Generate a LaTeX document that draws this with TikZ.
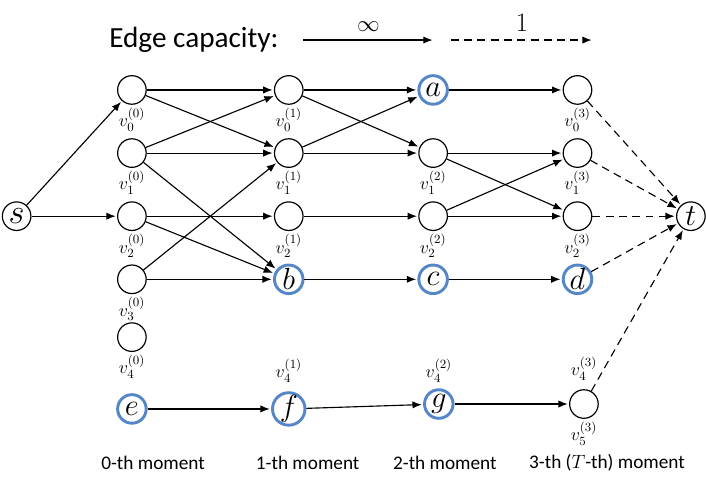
\RequirePackage{fix-cm}
\documentclass[tikz,border=0pt]{standalone}
\usepackage{amsmath,amsfonts}
\usepackage{fontspec}
\setmainfont{Carlito}
\usepackage{tikz}
\usetikzlibrary{automata,positioning,arrows.meta}

\definecolor{pickblue}{RGB}{84,134,200}

\tikzset{
  every state/.style={minimum size=21.5pt,inner sep=0pt,line width=0.9pt,
    font=\fontsize{23}{23}\selectfont},
  picked/.style={draw=pickblue,line width=2.2pt},
  onecap/.style={dash pattern=on 6pt off 4pt},
  vlab/.style={font=\fontsize{13.5}{14}\selectfont,inner sep=1pt,label distance=1pt},
  moment/.style={font=\fontsize{14.5}{15}\selectfont}
}

\begin{document}
\begin{tikzpicture}[shorten >=1pt,node distance=1.67cm and 3.82cm,on grid,
    >={Latex[length=7pt,width=5.5pt]},line width=0.85pt]
   \useasboundingbox (0,0) rectangle (18.68,-12.62);

   % capacity legend
   \node[font=\fontsize{22}{22}\selectfont] (cap) at (5.13,-1.06) {Edge capacity:};
   \coordinate (inf_a) at (8.02,-1.06);
   \coordinate (inf_b) at (11.48,-1.06);
   \coordinate (one_a) at (11.93,-1.06);
   \coordinate (one_b) at (15.69,-1.06);
   \draw[->] (inf_a) -- node[above=3pt,font=\fontsize{17}{17}\selectfont] {$\infty$} (inf_b);
   \draw[->,onecap] (one_a) -- node[above=3pt,font=\fontsize{20}{20}\selectfont] {$1$} (one_b);

   % 0-th moment
   \node[state] (v00) at (3.49,-2.38) [label={[vlab]below:$v_0^{(0)}$}] {};
   \node[state] (v10) [below=of v00, label={[vlab]below:$v_1^{(0)}$}] {};
   \node[state] (v20) [below=of v10, label={[vlab]below:$v_2^{(0)}$}] {};
   \node[state] (v30) [below=of v20, label={[vlab]below:$v_3^{(0)}$}] {};
   \node[state] (v40) [below=1.53cm of v30, label={[vlab]below:$v_4^{(0)}$}] {};
   \node[state, font=\fontsize{26}{26}\selectfont] (s) [left=3.05cm of v20] {$s$};

   % 1-th moment
   \node[state] (v01) [right=4.15cm of v00, label={[vlab]below:$v_0^{(1)}$}] {};
   \node[state] (v11) [right=4.15cm of v10, label={[vlab]below:$v_1^{(1)}$}] {};
   \node[state] (v21) [right=4.15cm of v20, label={[vlab]below:$v_2^{(1)}$}] {};
   \node[state, picked] (b) [right=4.15cm of v30] {$b$};

   % 2-th moment
   \node[state, picked] (a) [right=of v01] {$a$};
   \node[state] (v12) [right=of v11, label={[vlab]below:$v_1^{(2)}$}] {};
   \node[state] (v22) [right=of v21, label={[vlab]below:$v_2^{(2)}$}] {};
   \node[state, picked] (c) [right=of b] {$c$};

   % 3-th moment
   \node[state] (v03) [right=of a, label={[vlab]below:$v_0^{(3)}$}] {};
   \node[state] (v13) [right=of v12, label={[vlab]below:$v_1^{(3)}$}] {};
   \node[state] (v23) [right=of v22, label={[vlab]below:$v_2^{(3)}$}] {};
   \node[state, picked] (d) [right=of c] {$d$};
   \node[state] (t) [right=3.0cm of v23] {$t$};

   % bottom row
   \node[state, picked] (e) [below=1.9cm of v40] {$e$};
   \node[state, picked] (f) [right=4.15cm of e,
      label={[vlab,label distance=5pt]above:$v_4^{(1)}$}] {$f$};
   \node[state, picked] (g) [above right=0.13cm and 3.97cm of f,
      label={[vlab,label distance=3pt]above:$v_4^{(2)}$}] {$g$};
   \node[state] (v53) [right=3.84cm of g,
      label={[vlab,label distance=5pt]above:$v_4^{(3)}$},
      label={[vlab]below:$v_5^{(3)}$}] {};

   % moments
   \node[moment] (m0) [below right=1.43cm and 0.56cm of e] {0-th moment};
   \node[moment] (m1) [below right=1.43cm and 0.5cm of f] {1-th moment};
   \node[moment] (m2) [below right=1.56cm and 0.16cm of g] {2-th moment};
   \node[moment] (m3) [below right=1.56cm and 0.61cm of v53] {3-th ($T$-th) moment};

   \path[->]
    (s) edge (v00)
    (s) edge (v20)
    (v00) edge (v01)
    (v00) edge (v11)
    (v10) edge (v01)
    (v10) edge (v11)
    (v10) edge (b)
    (v20) edge (v21)
    (v20) edge (b)
    (v30) edge (v11)
    (v30) edge (b)
    (v01) edge (a)
    (v01) edge (v12)
    (v11) edge (a)
    (v11) edge (v12)
    (v21) edge (v22)
    (b) edge (c)
    (a) edge (v03)
    (v12) edge (v13)
    (v12) edge (v23)
    (v22) edge (v13)
    (v22) edge (v23)
    (c) edge (d)
    (e) edge (f)
    (f) edge (g)
    (g) edge (v53);
   \path[->,onecap]
    (v03) edge (t)
    (v13) edge (t)
    (v23) edge (t)
    (d) edge (t)
    (v53) edge (t);
\end{tikzpicture}
\end{document}
